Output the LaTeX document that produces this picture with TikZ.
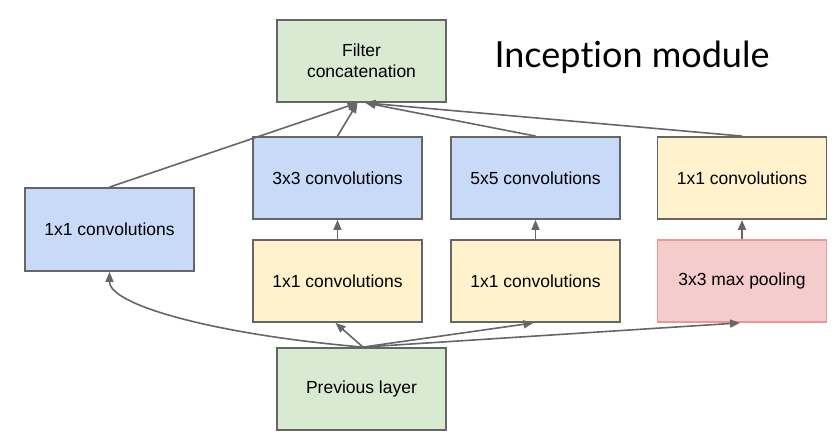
\documentclass[tikz,border=0pt]{standalone}
\usepackage{fontspec}
\setmainfont{Liberation Sans}
\newfontfamily\titlefont[Ligatures={NoCommon,NoDiscretionary}]{Lato}
\usepackage{tikz}
\usetikzlibrary{calc, positioning, arrows.meta}
\definecolor{line grey}{HTML}{666666}
\definecolor{light blue}{HTML}{C9DAF8}
\definecolor{light yellow}{HTML}{FFF2CC}
\definecolor{light green}{HTML}{D9EAD3}
\definecolor{light red}{HTML}{F4CCCC}
\definecolor{pool red}{HTML}{EA9999}

\begin{document}
\begin{tikzpicture}[x=1pt, y=-1pt,
    box/.style={draw=line grey, line width=1.8pt, minimum width=169pt, minimum height=82pt, inner sep=0pt, font=\fontsize{17.5}{21}\selectfont, align=center},
    arr/.style={line grey, line width=1.6pt, -{Triangle[length=10pt,width=8pt]}}]
    \useasboundingbox (0,0) rectangle (833,433);
    \node[box, fill=light green] (concat) at (361.5,61) {Filter\\concatenation};
    \node[box, fill=light green] (prev) at (361.5,389) {Previous layer};
    \node[box, fill=light blue, minimum height=83pt] (conv1) at (109.5,229.5) {1x1 convolutions};
    \node[box, fill=light blue] (c3) at (337.5,178) {3x3 convolutions};
    \node[box, fill=light blue] (c5) at (535.5,178) {5x5 convolutions};
    \node[box, fill=light yellow] (pconv) at (742,178) {1x1 convolutions};
    \node[box, fill=light yellow] (r3) at (337.5,281) {1x1 convolutions};
    \node[box, fill=light yellow] (r5) at (535.5,281) {1x1 convolutions};
    \node[box, fill=light red, draw=pool red] (pool) at (742,281) {3x3 max pooling};
    \node[anchor=base, inner sep=0pt, font=\titlefont\fontsize{36}{40}\selectfont] (title) at (632,68) {Incep\kern0pt tion module};

    % into the concatenation
    \draw[arr] (conv1.north) -- ([xshift=-4pt]concat.south);
    \draw[arr] (c3.north) -- ([xshift=-4pt]concat.south);
    \draw[arr] (c5.north) -- ([xshift=4pt]concat.south);
    \draw[arr] (pconv.north) -- ([xshift=4pt]concat.south);
    % second stage
    \foreach \low/\high in {r3/c3, r5/c5, pool/pconv}{
	\draw[arr] (\low.north) -- (\high.south);
	};
    % out of the previous layer
    \draw[arr] ([xshift=1.5pt]prev.north) .. controls +(-143,-12) and +(0,34) .. (conv1.south);
    \foreach \target in {r3, r5, pool}{
	\draw[arr] ([xshift=1.5pt]prev.north) -- ([xshift=-2pt]\target.south);
	};
\end{tikzpicture}
\end{document}
